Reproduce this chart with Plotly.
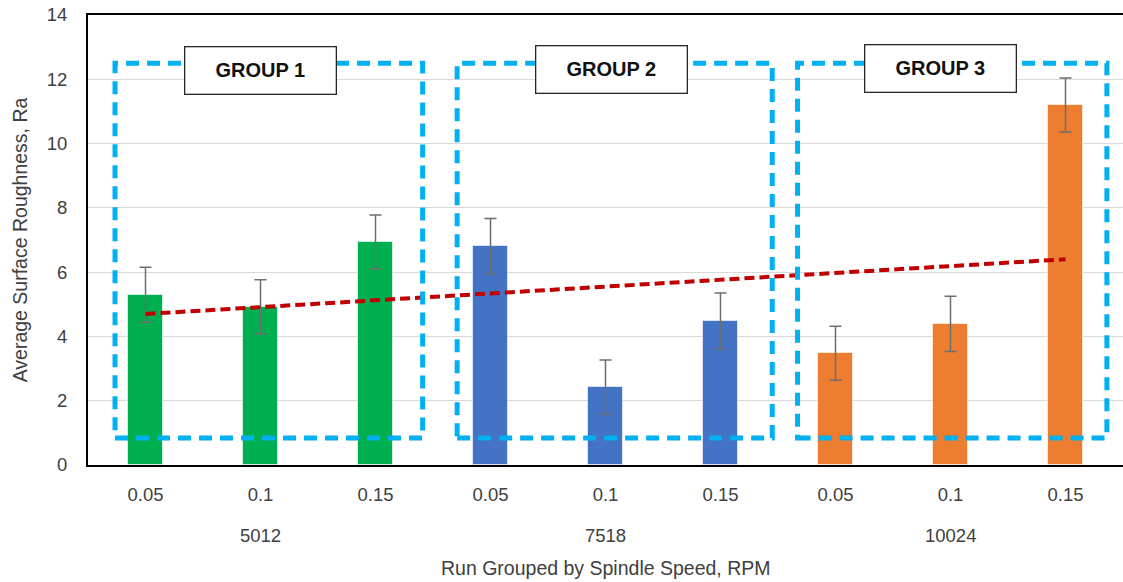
import numpy as np
import plotly.graph_objects as go

feed_labels = ["0.05", "0.1", "0.15", "0.05", "0.1", "0.15", "0.05", "0.1", "0.15"]
speed_groups = ["5012", "7518", "10024"]
roughness = [5.30, 4.92, 6.94, 6.81, 2.43, 4.48, 3.48, 4.39, 11.20]
roughness_err = [0.85, 0.84, 0.84, 0.86, 0.84, 0.87, 0.84, 0.86, 0.84]
group_names = ["GROUP 1", "GROUP 2", "GROUP 3"]
bar_colors = ["#00B050"] * 3 + ["#4472C4"] * 3 + ["#ED7D31"] * 3
y_ticks = [0, 2, 4, 6, 8, 10, 12, 14]

FONT = "Liberation Sans, Arial, sans-serif"
TXT = "#404040"

x = np.arange(len(roughness))
slope, intercept = np.polyfit(x + 1, roughness, 1)
trend = slope * (x + 1) + intercept

fig = go.Figure()
fig.add_trace(go.Bar(
    x=x, y=roughness, width=0.31,
    marker=dict(color=bar_colors, line=dict(color="rgba(255,255,255,0.6)", width=1)),
    error_y=dict(type="data", array=roughness_err, color="#6E6E6E", thickness=1.5, width=6),
    showlegend=False,
))
fig.add_trace(go.Scatter(
    x=x, y=trend, mode="lines",
    line=dict(color="#C00000", width=4, dash="10px,5px"),
    showlegend=False,
))

# dashed group rectangles
rects = [(-0.265, 2.41), (2.71, 5.45), (5.67, 8.36)]
for x0, x1 in rects:
    fig.add_shape(type="rect", xref="x", yref="y", x0=x0, x1=x1, y0=0.84, y1=12.5,
                  line=dict(color="#00B0F0", width=5, dash="13px,8px"), layer="above")

# group label boxes
label_x = [0.996, 4.05, 6.91]
label_y = [12.26, 12.30, 12.35]
for name, lx, ly in zip(group_names, label_x, label_y):
    fig.add_annotation(x=lx, y=ly, xref="x", yref="y", text="<b>%s</b>" % name,
                       showarrow=False, width=148, height=44,
                       bgcolor="white", bordercolor="#262626", borderwidth=1.3,
                       font=dict(family=FONT, size=20, color="#111111"))

# speed group labels
for i, g in enumerate(speed_groups):
    fig.add_annotation(x=3 * i + 1, y=0, xref="x", yref="paper", text=g,
                       showarrow=False, yanchor="middle", yshift=-70,
                       font=dict(family=FONT, size=18.5, color=TXT))

fig.add_annotation(x=0.5, y=0, xref="paper", yref="paper",
                   text="Run Grouped by Spindle Speed, RPM", showarrow=False,
                   yanchor="middle", yshift=-103,
                   font=dict(family=FONT, size=19.5, color=TXT))

fig.update_layout(
    width=1123, height=582,
    margin=dict(l=88, r=0, t=15, b=117, autoexpand=False),
    paper_bgcolor="white", plot_bgcolor="white",
    font=dict(family=FONT, color=TXT),
    bargap=0,
    xaxis=dict(range=[-0.5, 8.5], tickvals=list(x), ticktext=feed_labels,
               showgrid=False, zeroline=False, automargin=False,
               showline=True, linecolor="black", linewidth=2, mirror=True,
               ticks="", ticklabelstandoff=12,
               tickfont=dict(family=FONT, size=18.5, color=TXT)),
    yaxis=dict(range=[0, 14], tickvals=y_ticks, automargin=False,
               showgrid=True, gridcolor="#D9D9D9", gridwidth=1,
               zeroline=False, showline=True, linecolor="black", linewidth=2,
               ticks="", ticklabelstandoff=15,
               tickfont=dict(family=FONT, size=18.5, color=TXT),
               title=dict(text="Average Surface Roughness, Ra", standoff=14,
                          font=dict(family=FONT, size=19.5, color=TXT))),
)

fig.write_html("out.html", config={"displayModeBar": False},
               post_script="document.body.style.margin='0';document.body.style.overflow='hidden';")
